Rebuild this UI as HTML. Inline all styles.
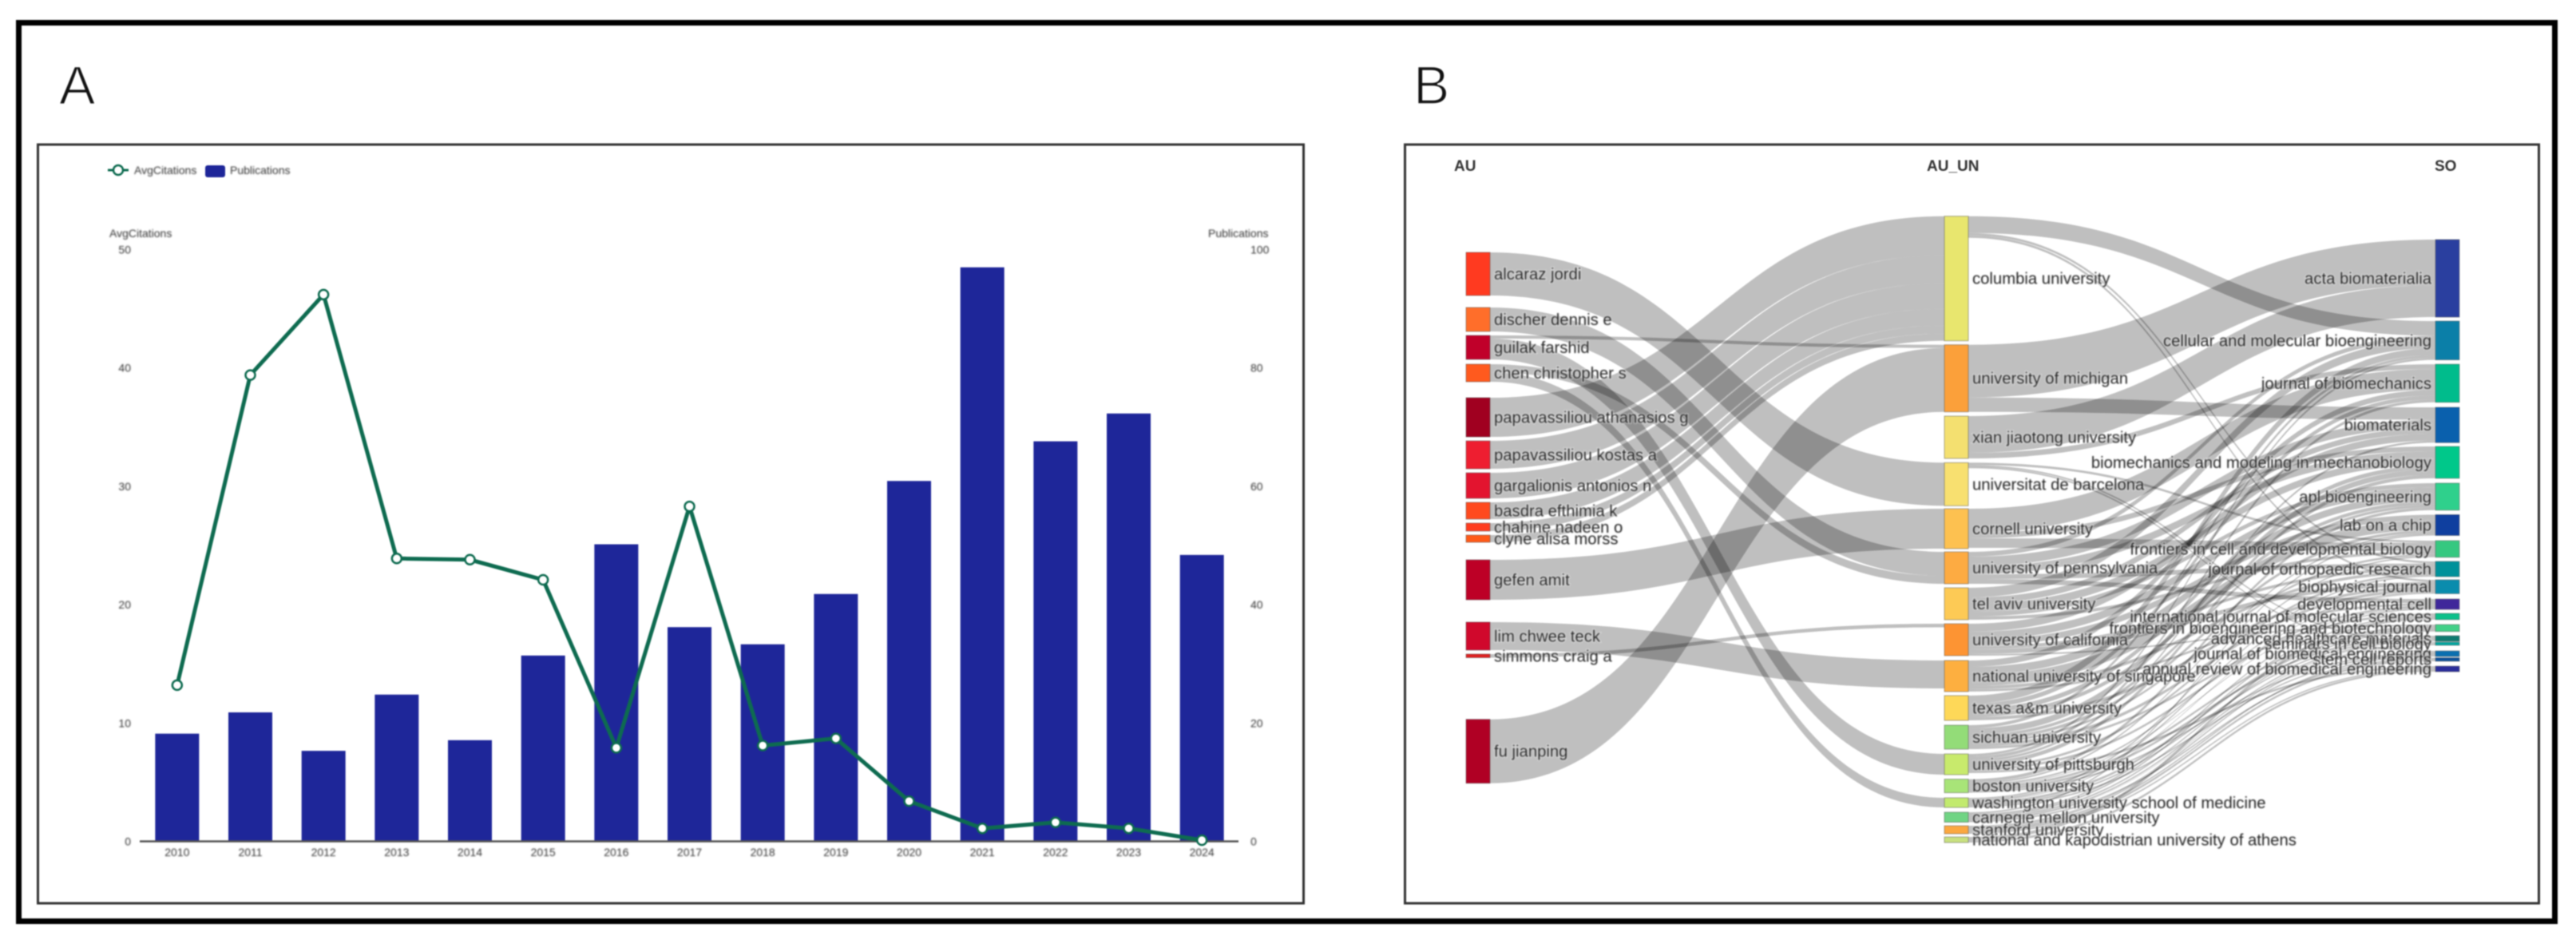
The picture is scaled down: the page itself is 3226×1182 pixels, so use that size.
<!DOCTYPE html>
<html lang="en">
<head>
<meta charset="utf-8">
<title>Publications and collaboration flow</title>
<style>
html,body{margin:0;padding:0;background:#fff;}
body{width:3226px;height:1182px;overflow:hidden;}
svg{display:block;font-family:"Liberation Sans",sans-serif;filter:blur(.7px);}
.tick{font-size:14px;fill:#333;filter:blur(.9px);}
.snk{font-size:20.3px;fill:#222;stroke:#fff;stroke-opacity:.55;stroke-width:2px;paint-order:stroke;filter:blur(.6px);}
.head{font-size:19px;font-weight:bold;fill:#333;}
.panel{font-size:68px;fill:#111;stroke:#fff;stroke-width:1.6px;}
</style>
</head>
<body>
<svg id="figure" xmlns="http://www.w3.org/2000/svg" width="3226" height="1182" viewBox="0 0 3226 1182">
  <rect x="23.5" y="28.5" width="3176" height="1125" fill="#fff" stroke="#000" stroke-width="7"/>
  <text class="panel" x="74" y="130">A</text>
  <text class="panel" x="1770" y="130">B</text>
  <rect x="47.5" y="181" width="1585" height="950" fill="#fff" stroke="#333" stroke-width="3"/>
  <rect x="1759.5" y="181" width="1420" height="950" fill="#fff" stroke="#333" stroke-width="3"/>

  <g>
    <line x1="135" y1="213" x2="161" y2="213" stroke="#0e6b50" stroke-width="3"/>
    <circle cx="148" cy="213" r="6" fill="#fff" stroke="#0e6b50" stroke-width="2.5"/>
    <text class="tick" x="168" y="218">AvgCitations</text>
    <rect x="257" y="207" width="25" height="15" rx="3" fill="#1e2699"/>
    <text class="tick" x="288" y="218">Publications</text>
  </g>
  <text class="tick" x="137" y="297">AvgCitations</text>
  <text class="tick" x="1513" y="297">Publications</text>

  <g id="chartA"></g>

  <text class="head" x="1821" y="214">AU</text>
  <text class="head" x="2413" y="214">AU_UN</text>
  <text class="head" x="3049" y="214">SO</text>

  <g id="sankey"></g>
</svg>

<script>
// ---------- Panel A data ----------
const years = ['2010','2011','2012','2013','2014','2015','2016','2017','2018','2019','2020','2021','2022','2023','2024'];
const publications = [18.2,21.8,15.3,24.8,17.1,31.4,50.2,36.2,33.3,41.8,60.9,97,67.6,72.3,48.4];
const avgCitations = [13.2,39.4,46.2,23.9,23.8,22.1,7.9,28.3,8.1,8.7,3.4,1.1,1.6,1.1,0.1];
const leftTicks = [0,10,20,30,40,50];
const rightTicks = [0,20,40,60,80,100];

// ---------- Panel B data ----------
const auNames = ['alcaraz jordi','discher dennis e','guilak farshid','chen christopher s','papavassiliou athanasios g','papavassiliou kostas a','gargalionis antonios n','basdra efthimia k','chahine nadeen o','clyne alisa morss','gefen amit','lim chwee teck','simmons craig a','fu jianping'];
const auUnNames = ['columbia university','university of michigan','xian jiaotong university','universitat de barcelona','cornell university','university of pennsylvania','tel aviv university','university of california','national university of singapore','texas a&m university','sichuan university','university of pittsburgh','boston university','washington university school of medicine','carnegie mellon university','stanford university','national and kapodistrian university of athens'];
const soNames = ['acta biomaterialia','cellular and molecular bioengineering','journal of biomechanics','biomaterials','biomechanics and modeling in mechanobiology','apl bioengineering','lab on a chip','frontiers in cell and developmental biology','journal of orthopaedic research','biophysical journal','developmental cell','international journal of molecular sciences','frontiers in bioengineering and biotechnology','advanced healthcare materials','seminars in cell biology','journal of biomedical engineering','stem cell reports','annual review of biomedical engineering'];

const auLinkSource = [0,1,2,2,3,3,4,5,6,7,8,9,10,11,12,13];
const auLinkTarget = [3,5,1,11,5,13,0,0,0,0,0,0,4,8,7,1];
const auLinkValue = [27,15,2,13,5,6,24.5,17.5,16,10.5,5,4.5,25,17.5,2.25,40];

const soLinkSource = [0,0,0, 1,1, 2,2, 3,3,3, 4,4,4, 5,5,5,5,5, 6,6,6,6,6, 7,7,7,7,7,7, 8,8,8,8,8, 9,9,9,9,9, 10,10,10,10,10,10,10, 11,11,11,11,11,11,11, 12,12,12,12,12,12,12, 13,13,13,13,13,13, 14,14,14,14,14,14,14, 15,15,15,15,15, 16,16];
const soLinkTarget = [1,8,9, 0,3, 0,2, 7,14,15, 2,7,4, 3,8,4,1,10, 1,4,3,7,5, 3,5,6,9,8,12, 6,5,2,8,10, 1,2,4,9,5, 4,1,5,6,7,11,9, 4,1,2,3,10,8,17, 5,6,12,13,9,15,10, 12,8,7,13,15,9, 6,13,10,11,16,12,14, 16,17,14,13,15, 11,17];
const soLinkValue = [10.5,1.5,1.5, 33,9, 23,3.5, 1.5,1,1, 15,6,3.5, 6,3,5,3,3, 6,5,4,2,3, 5,5,4,3,2,1, 7,5,4,2,1.5, 5,3,3,2,2.5, 4,2,2,2,1.5,1.5,2, 2.5,1.5,2,1.5,1.5,1.5,1.5, 2,1,1.5,1.5,1,1,0.5, 1.5,1,1,1,1,0.5, 1,1,1,1,1,1,0.25, 1.5,1,1,0.5,1, 2,1.5];

// ---------- Panel B styling and spacing (not data) ----------
const auColors = ['#ff3a20','#ff6e2a','#c0002a','#ff5a1e','#a00020','#ee1e30','#e3142f','#ff4a1e','#ff3c1e','#ff5a18','#bd0026','#d0082c','#e02020','#b00024'];
const auUnColors = ['#e8e66e','#fba03a','#f4e070','#f8e070','#fdc150','#fdab42','#fdca55','#fd9433','#fdaf40','#fed858','#93dc78','#c8ea6c','#a8e478','#c2ea6e','#70d484','#fba840','#c8e080'];
const soColors = ['#2a3f9f','#0b7fa8','#00bc8c','#0a60ad','#00c88a','#2fd08c','#0f3f9f','#35c880','#00919a','#0a8cad','#3f279a','#0cc08a','#42d088','#0e7a70','#00a8a0','#0a6fb0','#0a4f9a','#2a2d9a'];
const auSpacing = [15,5,6,20,5,5,5,5,5,22,28,5,77.2];
const auUnSpacing = [5,5.3,5.3,3.7,4,5,5,6,5,6,6,5.6,6.4,6,4.5,4];
const soSpacing = [5,5.5,6.3,4.8,6.1,5.7,6.5,5.2,4,6.7,5,6.2,5.3,1.1,7.1,1.6,6.2];

const NS = 'http://www.w3.org/2000/svg';
function make(tag, attrs, parent) {
  const el = document.createElementNS(NS, tag);
  for (const k in attrs) el.setAttribute(k, attrs[k]);
  parent.appendChild(el);
  return el;
}

// ---------- Panel A axes ----------
const chartA = document.getElementById('chartA');
const baseY = 1053.5;
const plotLeft = 176;
const plotRight = 1551;
const plotHeight = 741;
const maxLeft = leftTicks[leftTicks.length - 1];
const maxRight = rightTicks[rightTicks.length - 1];
const stepX = (plotRight - plotLeft) / years.length;
const xCenter = i => plotLeft + stepX * (i + 0.5);
const yPub = v => baseY - v / maxRight * plotHeight;
const yCit = v => baseY - v / maxLeft * plotHeight;

publications.forEach((v, i) => {
  const bar = make('rect', {x: xCenter(i) - 27.5, y: yPub(v), width: 55, height: baseY - yPub(v), fill: '#1e2699'}, chartA);
  
  
});

const axisLine = make('line', {x1: plotLeft - 1, y1: baseY, x2: plotRight, y2: baseY, stroke: '#555', 'stroke-width': 2.5}, chartA);



years.forEach((y, i) => {
  const label = make('text', {x: xCenter(i), y: 1072, 'text-anchor': 'middle', class: 'tick'}, chartA);
  label.textContent = y;
  
  
});

leftTicks.forEach(t => {
  const label = make('text', {x: 164, y: yCit(t) + 5, 'text-anchor': 'end', class: 'tick'}, chartA);
  label.textContent = t;
  
  
});

rightTicks.forEach(t => {
  const label = make('text', {x: 1566, y: yPub(t) + 5, class: 'tick'}, chartA);
  label.textContent = t;
  
  
});

const linePoints = avgCitations.map((v, i) => xCenter(i) + ',' + yCit(v)).join(' ');
const citLine = make('polyline', {points: linePoints, fill: 'none', stroke: '#0e6b50', 'stroke-width': 5, 'stroke-linejoin': 'round'}, chartA);



avgCitations.forEach((v, i) => {
  const dot = make('circle', {cx: xCenter(i), cy: yCit(v), r: 6, fill: '#fff', stroke: '#0e6b50', 'stroke-width': 2.5}, chartA);
  
  
});

// ---------- Panel B layout ----------
const sankey = document.getElementById('sankey');
const unitLeft = 2;
const unitRight = 1.733;
const nodeWidth = 30;
const auX = 1836;
const auUnX = 2435;
const soX = 3050;

function totals(count, indexes, values) {
  const sums = new Array(count).fill(0);
  indexes.forEach((n, i) => { sums[n] += values[i]; });
  return sums;
}
const auOut = totals(auNames.length, auLinkSource, auLinkValue);
const midIn = totals(auUnNames.length, auLinkTarget, auLinkValue);
const midOut = totals(auUnNames.length, soLinkSource, soLinkValue);
const soIn = totals(soNames.length, soLinkTarget, soLinkValue);

const auHeights = auOut.map(v => v * unitLeft);
const midHeights = midIn.map((v, i) => Math.max(v, midOut[i]) * unitLeft);
const soHeights = soIn.map(v => v * unitRight);

function stackColumn(start, heights, spacing) {
  const tops = [];
  let y = start;
  heights.forEach((h, i) => {
    tops.push(y);
    y += h + (spacing[i] || 0);
  });
  return tops;
}
const auTops = stackColumn(316, auHeights, auSpacing);
const midTops = stackColumn(270.7, midHeights, auUnSpacing);
const soTops = stackColumn(300, soHeights, soSpacing);

function drawLinks(srcIdx, tgtIdx, vals, srcTops, tgtTops, x0, x1, srcUnit, tgtUnit, prefix) {
  const order = vals.map((_, i) => i);
  const srcOffset = srcTops.map(() => 0);
  const tgtOffset = tgtTops.map(() => 0);
  const startY = [];
  const endY = [];
  order.slice().sort((a, b) => tgtTops[tgtIdx[a]] - tgtTops[tgtIdx[b]]).forEach(i => {
    startY[i] = srcTops[srcIdx[i]] + srcOffset[srcIdx[i]];
    srcOffset[srcIdx[i]] += vals[i] * srcUnit;
  });
  order.slice().sort((a, b) => srcTops[srcIdx[a]] - srcTops[srcIdx[b]]).forEach(i => {
    endY[i] = tgtTops[tgtIdx[i]] + tgtOffset[tgtIdx[i]];
    tgtOffset[tgtIdx[i]] += vals[i] * tgtUnit;
  });
  const xm = (x0 + x1) / 2;
  order.forEach(i => {
    const y0 = startY[i], y1 = endY[i];
    const w0 = vals[i] * srcUnit, w1 = vals[i] * tgtUnit;
    const d = 'M' + x0 + ',' + y0 + ' C' + xm + ',' + y0 + ' ' + xm + ',' + y1 + ' ' + x1 + ',' + y1 +
      ' L' + x1 + ',' + (y1 + w1) + ' C' + xm + ',' + (y1 + w1) + ' ' + xm + ',' + (y0 + w0) + ' ' + x0 + ',' + (y0 + w0) + ' Z';
    const link = make('path', {d: d, fill: 'rgba(0,0,0,0.25)'}, sankey);
    
    
  });
}
drawLinks(auLinkSource, auLinkTarget, auLinkValue, auTops, midTops, auX + nodeWidth, auUnX, unitLeft, unitLeft, 'au');
drawLinks(soLinkSource, soLinkTarget, soLinkValue, midTops, soTops, auUnX + nodeWidth, soX, unitLeft, unitRight, 'so');

function drawColumn(names, tops, heights, colors, x, prefix, labelX, anchor) {
  names.forEach((name, i) => {
    const node = make('rect', {x: x, y: tops[i], width: nodeWidth, height: heights[i], fill: colors[i], stroke: 'rgba(70,70,70,.45)', 'stroke-width': 1}, sankey);
    
    
  });
  names.forEach((name, i) => {
    const label = make('text', {x: labelX, y: tops[i] + heights[i] / 2 + 7, 'text-anchor': anchor, class: 'snk'}, sankey);
    label.textContent = name;
    
    
  });
}
drawColumn(auNames, auTops, auHeights, auColors, auX, 'au', auX + nodeWidth + 5, 'start');
drawColumn(auUnNames, midTops, midHeights, auUnColors, auUnX, 'au-un', auUnX + nodeWidth + 5, 'start');
drawColumn(soNames, soTops, soHeights, soColors, soX, 'so', soX - 5, 'end');
</script>
</body>
</html>
